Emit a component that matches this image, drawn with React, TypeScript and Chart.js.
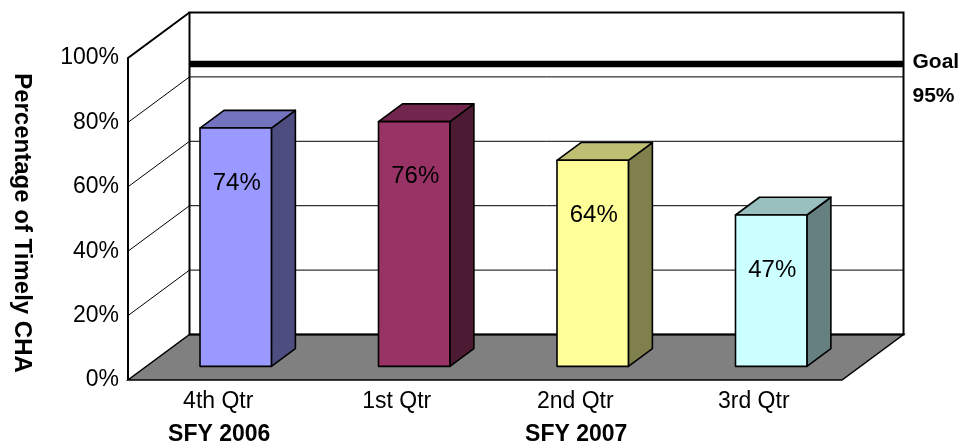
import { useEffect, useRef } from "react";
import { Chart, registerables } from "chart.js";

Chart.register(...registerables);

// ---- data ----
const categories = ["4th Qtr", "1st Qtr", "2nd Qtr", "3rd Qtr"];
const values = [74, 76, 64, 47];
const yearLabels = ["SFY 2006", "", "SFY 2007", ""];
const yMin = 0;
const yMax = 100;
const yStep = 20;
const goalValue = 95;
const goalLineLevel = 84; // level at which the goal line is drawn on the back wall
const axisTitle = "Percentage of Timely CHA";

// ---- styles ----
const frontColors = ["#9999FF", "#993366", "#FFFF99", "#CCFFFF"];
const topColors = ["#7373BF", "#73264D", "#BFBF73", "#99BFBF"];
const sideColors = ["#4D4D80", "#4D1A33", "#80804D", "#668080"];
const FONT = '"Liberation Sans", Arial, sans-serif';
const DX = 61.5; // depth projection
const DY = -45.5;
const D0 = 0.3; // bar front depth
const D1 = 0.69; // bar back depth

const threeD = {
  id: "threeD",
  beforeDatasetsDraw(chart: any) {
    const { ctx, chartArea: a } = chart;
    const ys = chart.scales.y;
    const xs = chart.scales.x;
    const P = (x: number, v: number, d: number): [number, number] => [
      x + d * DX,
      ys.getPixelForValue(v) + d * DY,
    ];
    ctx.save();
    ctx.lineCap = "butt";
    ctx.lineJoin = "miter";

    // back wall
    const bw0 = P(a.left, yMax, 1);
    const bw1 = P(a.right, yMin, 1);
    ctx.fillStyle = "#FFFFFF";
    ctx.fillRect(bw0[0], bw0[1], bw1[0] - bw0[0], bw1[1] - bw0[1]);

    // gridlines
    ctx.strokeStyle = "#000";
    ctx.lineWidth = 1;
    const tickVals: number[] = ys.ticks.map((t: any) => t.value);
    tickVals.forEach((v) => {
      if (v <= yMin || v >= yMax) return;
      const f = P(a.left, v, 0);
      const b = P(a.left, v, 1);
      const r = P(a.right, v, 1);
      ctx.beginPath();
      ctx.moveTo(f[0], f[1]);
      ctx.lineTo(b[0], b[1]);
      ctx.lineTo(r[0], r[1]);
      ctx.stroke();
    });

    // floor
    const f0 = P(a.left, yMin, 0);
    const f1 = P(a.right, yMin, 0);
    const f2 = P(a.right, yMin, 1);
    const f3 = P(a.left, yMin, 1);
    ctx.beginPath();
    ctx.moveTo(f0[0], f0[1]);
    ctx.lineTo(f1[0], f1[1]);
    ctx.lineTo(f2[0], f2[1]);
    ctx.lineTo(f3[0], f3[1]);
    ctx.closePath();
    ctx.fillStyle = "#808080";
    ctx.fill();
    ctx.lineWidth = 1.5;
    ctx.stroke();

    // back wall border
    ctx.lineWidth = 2;
    ctx.strokeRect(bw0[0], bw0[1], bw1[0] - bw0[0], bw1[1] - bw0[1]);

    // left wall
    const lt = P(a.left, yMax, 0);
    const lb = P(a.left, yMin, 0);
    ctx.beginPath();
    ctx.moveTo(lb[0], lb[1]);
    ctx.lineTo(lt[0], lt[1]);
    ctx.lineTo(bw0[0], bw0[1]);
    ctx.stroke();

    // goal line
    const g0 = P(a.left, goalLineLevel, 1);
    const g1 = P(a.right, goalLineLevel, 1);
    ctx.lineWidth = 6.5;
    ctx.beginPath();
    ctx.moveTo(g0[0], g0[1]);
    ctx.lineTo(g1[0], g1[1]);
    ctx.stroke();

    // goal text
    ctx.fillStyle = "#000";
    ctx.font = `bold 21px ${FONT}`;
    ctx.textAlign = "left";
    ctx.textBaseline = "middle";
    ctx.fillText("Goal", g1[0] + 9, g1[1] - 2);
    ctx.fillText(`${goalValue}%`, g1[0] + 9, g1[1] + 32);

    // y tick labels
    ctx.font = `23px ${FONT}`;
    ctx.textAlign = "right";
    tickVals.forEach((v) => {
      ctx.fillText(`${v}%`, a.left - 9, ys.getPixelForValue(v));
    });

    // category labels
    ctx.textAlign = "center";
    categories.forEach((c, i) => {
      ctx.fillText(c, xs.getPixelForValue(i) + 1, a.bottom + 22);
    });
    ctx.font = `bold 23px ${FONT}`;
    yearLabels.forEach((c, i) => {
      if (c) ctx.fillText(c, xs.getPixelForValue(i) + 2, a.bottom + 55);
    });

    // axis title
    ctx.save();
    ctx.translate(22, (a.top + a.bottom) / 2 + 4);
    ctx.rotate(Math.PI / 2);
    ctx.font = `bold 24px ${FONT}`;
    ctx.textAlign = "center";
    ctx.textBaseline = "middle";
    ctx.fillText(axisTitle, 0, 0);
    ctx.restore();

    ctx.restore();
  },
  afterDatasetsDraw(chart: any) {
    const { ctx } = chart;
    const meta = chart.getDatasetMeta(0);
    ctx.save();
    ctx.lineJoin = "round";
    ctx.strokeStyle = "#000";
    ctx.lineWidth = 1.6;
    meta.data.forEach((el: any, i: number) => {
      const { x, y, base, width } = el.getProps(["x", "y", "base", "width"], true);
      const xl = x - width / 2;
      const xr = x + width / 2;
      const p = (px: number, py: number, d: number): [number, number] => [px + d * DX, py + d * DY];
      const poly = (pts: [number, number][], fill: string) => {
        ctx.beginPath();
        ctx.moveTo(pts[0][0], pts[0][1]);
        for (let k = 1; k < pts.length; k++) ctx.lineTo(pts[k][0], pts[k][1]);
        ctx.closePath();
        ctx.fillStyle = fill;
        ctx.fill();
        ctx.stroke();
      };
      // side
      poly([p(xr, y, D0), p(xr, y, D1), p(xr, base, D1), p(xr, base, D0)], sideColors[i]);
      // top
      poly([p(xl, y, D0), p(xr, y, D0), p(xr, y, D1), p(xl, y, D1)], topColors[i]);
      // front
      poly([p(xl, y, D0), p(xr, y, D0), p(xr, base, D0), p(xl, base, D0)], frontColors[i]);
      // label
      const c = p(x, y, D0);
      ctx.fillStyle = "#000";
      ctx.font = `24px ${FONT}`;
      ctx.textAlign = "center";
      ctx.textBaseline = "middle";
      ctx.fillText(`${values[i]}%`, c[0] + 1, c[1] + 55);
    });
    ctx.restore();
  },
};

export default function App() {
  const ref = useRef<HTMLCanvasElement>(null);
  useEffect(() => {
    document.body.style.margin = "0";
    const chart = new Chart(ref.current!, {
      type: "bar",
      data: {
        labels: categories,
        datasets: [
          {
            data: values,
            backgroundColor: "rgba(0,0,0,0)",
            borderWidth: 0,
            barPercentage: 0.4,
            categoryPercentage: 1,
          },
        ],
      },
      options: {
        responsive: false,
        animation: false,
        devicePixelRatio: 1,
        layout: { padding: { left: 128, right: 122, top: 58, bottom: 67 } },
        plugins: { legend: { display: false }, tooltip: { enabled: false } },
        scales: {
          x: { display: false, offset: true },
          y: { display: false, min: yMin, max: yMax, ticks: { stepSize: yStep } },
        },
      },
      plugins: [threeD],
    });
    return () => chart.destroy();
  }, []);
  return (
    <div style={{ width: 964, height: 447 }}>
      <canvas ref={ref} width={964} height={447} style={{ display: "block", width: 964, height: 447 }} />
    </div>
  );
}
